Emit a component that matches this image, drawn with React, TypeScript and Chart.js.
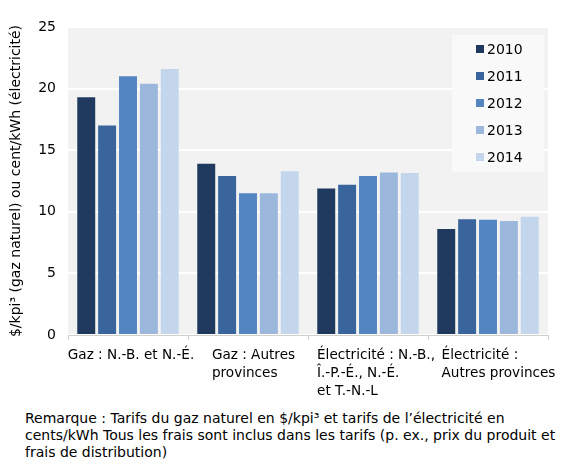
import React, { useEffect, useRef } from "react";
import { Chart, registerables } from "chart.js";

Chart.register(...registerables);

const categories: string[][] = [
  ["Gaz : N.-B. et N.-É."],
  ["Gaz : Autres", "provinces"],
  ["Électricité : N.-B.,", "Î.-P.-É., N.-É.", "et T.-N.-L"],
  ["Électricité :", "Autres provinces"],
];
const years = ["2010", "2011", "2012", "2013", "2014"];
const values2010 = [19.3, 13.9, 11.9, 8.6];
const values2011 = [17.0, 12.9, 12.2, 9.4];
const values2012 = [21.0, 11.5, 12.9, 9.35];
const values2013 = [20.4, 11.5, 13.2, 9.25];
const values2014 = [21.6, 13.3, 13.15, 9.6];
const colors = ["#1f3a5e", "#3a649c", "#5285c2", "#9bb8dc", "#c3d6eb"];
const yTicks = [0, 5, 10, 15, 20, 25];
const yTitle = "$/kpi³ (gaz naturel) ou cent/kWh (électricité)";
const note = [
  "Remarque : Tarifs du gaz naturel en $/kpi³ et tarifs de l’électricité en",
  "cents/kWh Tous les frais sont inclus dans les tarifs (p. ex., prix du produit et",
  "frais de distribution)",
];

const FONT = "'DejaVu Sans', sans-serif";

const bgPlugin = {
  id: "areaBg",
  beforeDraw(chart: any) {
    const { ctx, chartArea } = chart;
    ctx.save();
    ctx.fillStyle = "#f2f2f2";
    ctx.fillRect(chartArea.left, chartArea.top, chartArea.right - chartArea.left, chartArea.bottom - chartArea.top);
    ctx.restore();
  },
};

const customPlugin = {
  id: "customDraw",
  afterDraw(chart: any) {
    const { ctx, chartArea } = chart;
    const xs = chart.scales.x;
    ctx.save();
    // x labels
    ctx.font = `13.6px ${FONT}`;
    ctx.fillStyle = "#000";
    ctx.textBaseline = "middle";
    ctx.textAlign = "left";
    categories.forEach((lines, i) => {
      const cx = xs.getPixelForValue(i) + 3 + i * 2.5;
      const w = Math.max(...lines.map((l) => ctx.measureText(l).width));
      const left = cx - w / 2;
      lines.forEach((l, j) => {
        ctx.fillText(l, left, chartArea.bottom + 20 + j * 18);
      });
    });
    // legend
    const bx = chartArea.right - 96;
    const by = chartArea.top + 8;
    const bw = 92;
    const bh = 137;
    ctx.fillStyle = "#f9f9f9";
    ctx.fillRect(bx, by, bw, bh);
    ctx.font = `14px ${FONT}`;
    chart.data.datasets.forEach((ds: any, i: number) => {
      const y = by + 14 + i * 27;
      ctx.fillStyle = ds.backgroundColor;
      ctx.fillRect(bx + 24, y - 4, 8, 8);
      ctx.fillStyle = "#000";
      ctx.fillText(ds.label, bx + 35, y + 1);
    });
    ctx.restore();
  },
};

export default function App() {
  const ref = useRef<HTMLCanvasElement | null>(null);
  useEffect(() => {
    if (!ref.current) return;
    const series = [values2010, values2011, values2012, values2013, values2014];
    const chart = new Chart(ref.current, {
      type: "bar",
      data: {
        labels: categories.map((c) => c.join(" ")),
        datasets: years.map((y, i) => ({
          label: y,
          data: series[i],
          backgroundColor: colors[i],
          borderWidth: 0,
          categoryPercentage: 0.87,
          barPercentage: 0.86,
        })),
      },
      options: {
        animation: false,
        responsive: false,
        devicePixelRatio: 1,
        layout: { padding: { left: 8, right: 32, top: 27, bottom: 0 } },
        plugins: {
          legend: { display: false },
          tooltip: { enabled: false },
          title: { display: false },
        },
        scales: {
          x: {
            grid: {
              display: true,
              drawOnChartArea: false,
              drawTicks: true,
              tickLength: 5,
              color: "#d0d0d0",
              offset: true,
            },
            border: { display: true, color: "#d0d0d0" },
            ticks: { display: false },
            afterFit(scale: any) {
              scale.height = 65;
            },
          },
          y: {
            min: 0,
            max: 25,
            afterBuildTicks(scale: any) {
              scale.ticks = yTicks.map((v) => ({ value: v }));
            },
            grid: { color: "#ffffff", lineWidth: 2, drawTicks: false },
            border: { display: false },
            ticks: {
              color: "#000",
              font: { family: FONT, size: 14 },
              padding: 12,
            },
            title: {
              display: true,
              text: yTitle,
              color: "#000",
              font: { family: FONT, size: 14 },
              padding: { top: 0, bottom: 8 },
            },
            afterFit(scale: any) {
              scale.width = 60;
            },
          },
        },
      },
      plugins: [bgPlugin, customPlugin],
    });
    return () => chart.destroy();
  }, []);
  return (
    <div style={{ position: "absolute", left: 0, top: 0, width: 580, height: 471, background: "#fff" }}>
      <canvas ref={ref} width={580} height={400} style={{ display: "block" }} />
      <div
        style={{
          position: "absolute",
          left: 25,
          top: 410,
          fontFamily: FONT,
          fontSize: 14,
          lineHeight: "17px",
          color: "#000",
          whiteSpace: "nowrap",
        }}
      >
        {note.map((l, i) => (
          <div key={i}>{l}</div>
        ))}
      </div>
    </div>
  );
}
